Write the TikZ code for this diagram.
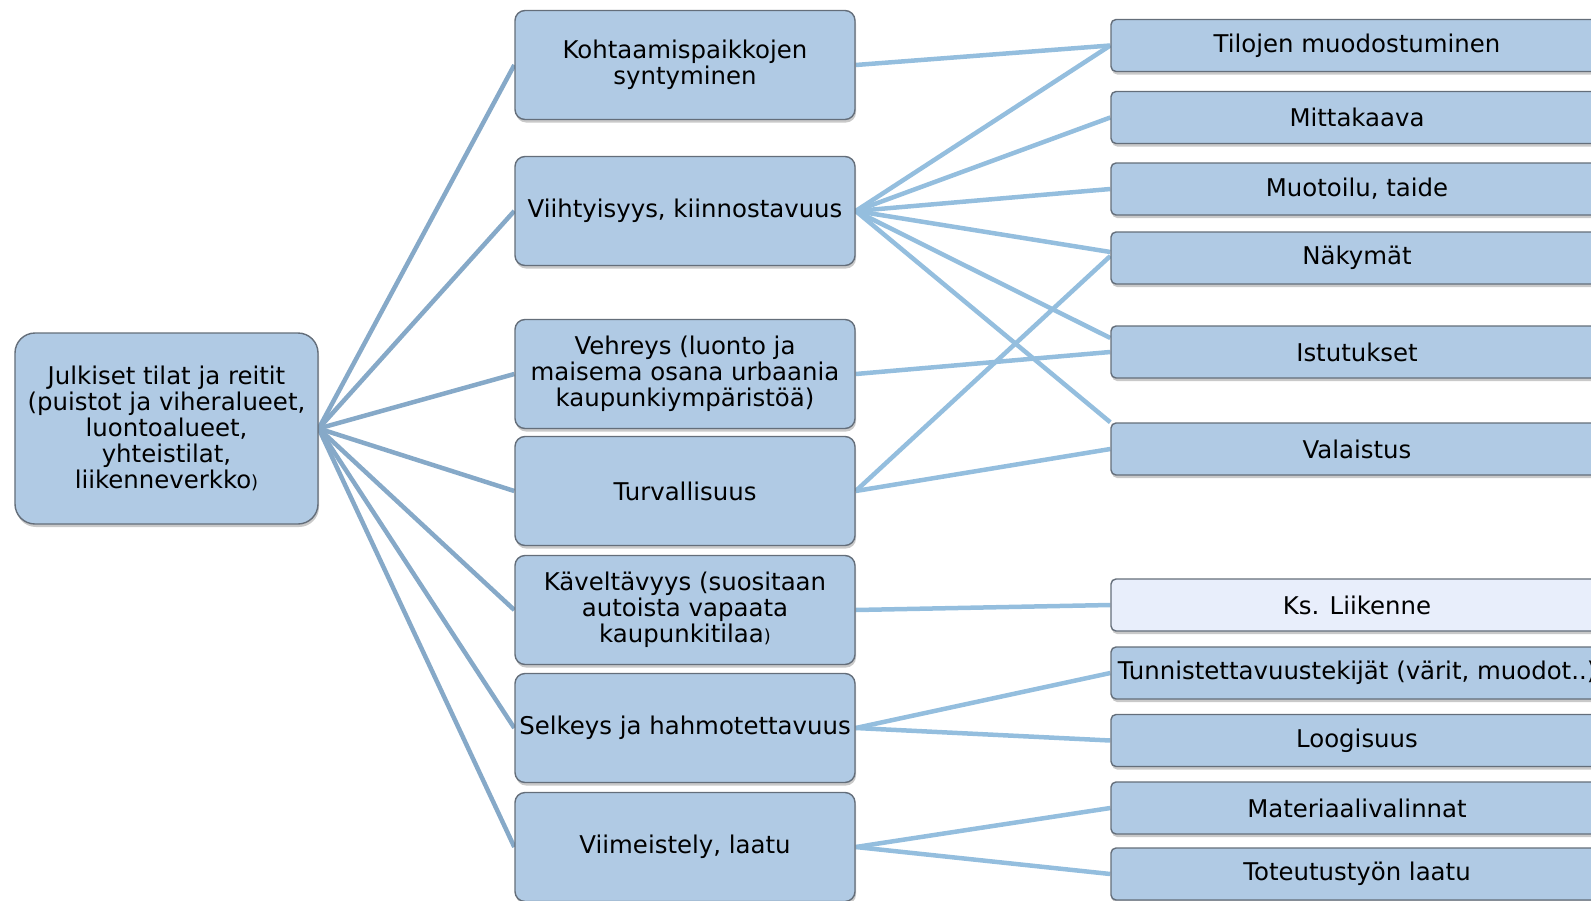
\documentclass[tikz,border=0pt]{standalone}
\usepackage{fontspec}
\setmainfont{DejaVu Sans}
\usetikzlibrary{shadows,calc,backgrounds}
\definecolor{boxfill}{RGB}{176,202,228}
\definecolor{boxdraw}{RGB}{100,110,122}
\definecolor{lineL}{RGB}{134,169,200}
\definecolor{lineR}{RGB}{148,190,222}
\definecolor{lightfill}{RGB}{232,238,251}
\newcommand{\smallpar}{{\fontsize{18}{26}\selectfont )}}
\begin{document}
\begin{tikzpicture}[x=1bp,y=-1bp,
  box/.style={draw=boxdraw, line width=1.4bp, fill=boxfill, align=center, inner sep=0pt,
    font=\fontsize{24.5}{26}\selectfont,
    drop shadow={shadow xshift=1bp, shadow yshift=-3bp, opacity=0.3, fill=black!70}},
  rootbox/.style={box, minimum width=303bp, minimum height=191bp, rounded corners=20bp},
  midbox/.style={box, minimum width=340bp, minimum height=109bp, rounded corners=10bp},
  rbox/.style={box, minimum width=492bp, minimum height=52bp, rounded corners=5bp},
  conL/.style={draw=lineL, line width=4.5bp},
  conR/.style={draw=lineR, line width=4.5bp}]
\useasboundingbox (0,0) rectangle (1591,900);
\clip (0,0) rectangle (1591,900);

\node[rootbox] (root) at (166.5,428.5) {Julkiset tilat ja reitit\\(puistot ja viheralueet,\\luontoalueet,\\yhteistilat,\\liikenneverkko\smallpar};

\node[midbox] (m1) at (685,65) {Kohtaamispaikkojen\\syntyminen};
\node[midbox] (m2) at (685,211) {Viihtyisyys, kiinnostavuus};
\node[midbox] (m3) at (685,374) {Vehreys (luonto ja\\maisema osana urbaania\\kaupunkiympäristöä)};
\node[midbox] (m4) at (685,491) {Turvallisuus};
\node[midbox] (m5) at (685,610) {Käveltävyys (suositaan\\autoista vapaata\\kaupunkitilaa\smallpar};
\node[midbox] (m6) at (685,728) {Selkeys ja hahmotettavuus};
\node[midbox] (m7) at (685,847) {Viimeistely, laatu};

\node[rbox] (r1) at (1357,45.5) {Tilojen muodostuminen};
\node[rbox] (r2) at (1357,117.5) {Mittakaava};
\node[rbox] (r3) at (1357,189) {Muotoilu, taide};
\node[rbox] (r4) at (1357,258) {Näkymät};
\node[rbox] (r5) at (1357,352) {Istutukset};
\node[rbox] (r6) at (1357,449) {Valaistus};
\node[rbox, fill=lightfill] (r7) at (1357,605) {Ks. Liikenne};
\node[rbox] (r8) at (1357,673) {Tunnistettavuustekijät (värit, muodot..)};
\node[rbox] (r9) at (1357,740.5) {Loogisuus};
\node[rbox] (r10) at (1357,808) {Materiaalivalinnat};
\node[rbox] (r11) at (1357,874) {Toteutustyön laatu};

\begin{pgfonlayer}{background}
\foreach \m in {m1,m2,m3,m4,m5,m6,m7}
  \draw[conL] (root.east) -- (\m.west);
\draw[conR] (m1.east) -- (r1.west);
\draw[conR] (m2.east) -- (r1.west);
\draw[conR] (m2.east) -- (r2.west);
\draw[conR] (m2.east) -- (r3.west);
\draw[conR] (m2.east) -- ($(r4.west)+(0,-6)$);
\draw[conR] (m2.east) -- ($(r5.west)+(0,-14)$);
\draw[conR] (m2.east) -- (r6.north west);
\draw[conR] (m3.east) -- (r5.west);
\draw[conR] (m4.east) -- ($(r4.west)+(0,-2)$);
\draw[conR] (m4.east) -- (r6.west);
\draw[conR] (m5.east) -- (r7.west);
\draw[conR] (m6.east) -- (r8.west);
\draw[conR] (m6.east) -- (r9.west);
\draw[conR] (m7.east) -- (r10.west);
\draw[conR] (m7.east) -- (r11.west);
\end{pgfonlayer}
\end{tikzpicture}
\end{document}
